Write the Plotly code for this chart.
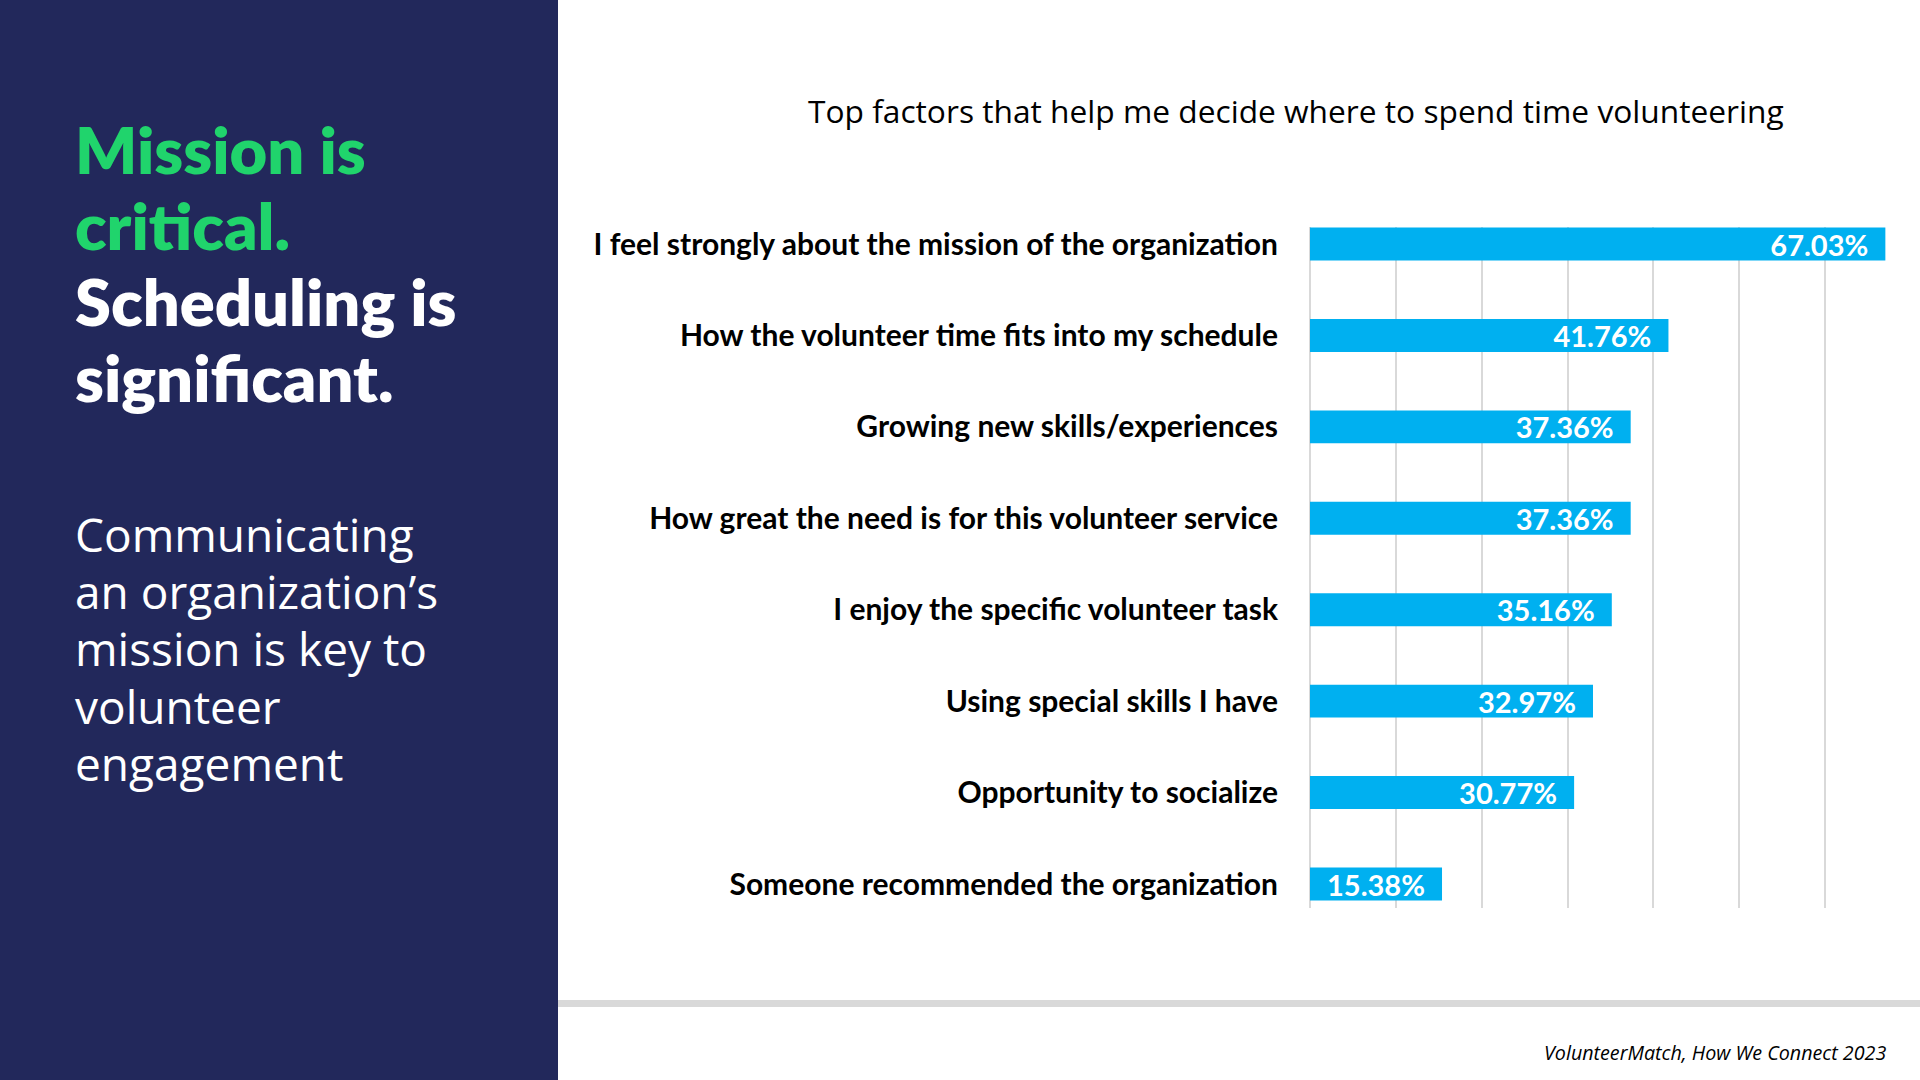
import plotly.graph_objects as go

# ---- data ----
categories = [
    "I feel strongly about the mission of the organization",
    "How the volunteer time fits into my schedule",
    "Growing new skills/experiences",
    "How great the need is for this volunteer service",
    "I enjoy the specific volunteer task",
    "Using special skills I have",
    "Opportunity to socialize",
    "Someone recommended the organization",
]
values = [67.03, 41.76, 37.36, 37.36, 35.16, 32.97, 30.77, 15.38]

chart_title = "Top factors that help me decide where to spend time volunteering"
headline_green = ["Mission is", "critical."]
headline_white = ["Scheduling is", "significant."]
body_lines = ["Communicating", "an organization\u2019s", "mission is key to", "volunteer", "engagement"]
source_note = "VolunteerMatch, How We Connect 2023"

# ---- styling ----
W, H = 1920, 1080
NAVY = "#22285B"
GREEN = "#20D46C"
BAR = "#00B0F0"
GRID = "#D9D9D9"


def px(x):
    return x / W


def py(y):
    return 1 - y / H


fig = go.Figure(
    go.Bar(
        x=values,
        y=categories,
        orientation="h",
        width=0.36,
        marker=dict(color=BAR, line=dict(width=0)),
        texttemplate="%{x:.2f}%\u00a0\u00a0",
        textposition="inside",
        insidetextanchor="end",
        constraintext="none",
        textangle=0,
        textfont=dict(family="Lato", size=29, color="white", weight="bold"),
        hoverinfo="skip",
    )
)

fig.update_layout(
    width=W,
    height=H,
    autosize=False,
    margin=dict(l=0, r=0, t=0, b=0),
    paper_bgcolor="white",
    plot_bgcolor="white",
    showlegend=False,
    xaxis=dict(
        domain=[px(1310), px(1910)],
        range=[0, 69.9],
        dtick=10,
        tick0=0,
        showticklabels=False,
        showgrid=True,
        gridcolor=GRID,
        gridwidth=2,
        zeroline=True,
        zerolinecolor=GRID,
        zerolinewidth=2,
        showline=False,
        fixedrange=True,
    ),
    yaxis=dict(
        domain=[py(908), py(227)],
        type="category",
        autorange=False,
        range=[7.2625, -0.186],
        showgrid=False,
        zeroline=False,
        showline=False,
        ticks="",
        ticklabelstandoff=31,
        tickfont=dict(family="Lato", size=30, color="black", weight="bold"),
        fixedrange=True,
        automargin=False,
    ),
)

# left navy panel and bottom rule
fig.add_shape(type="rect", xref="paper", yref="paper", x0=0, x1=px(558), y0=0, y1=1,
              fillcolor=NAVY, line=dict(width=0), layer="below")
fig.add_shape(type="rect", xref="paper", yref="paper", x0=px(558), x1=1, y0=py(1007), y1=py(1000),
              fillcolor=GRID, line=dict(width=0), layer="below")

annotations = []
head_fs = 65
head_centers = [149, 225, 301, 377]
for i, t in enumerate(headline_green + headline_white):
    annotations.append(dict(
        text=t, x=px(73), y=py(head_centers[i]), xref="paper", yref="paper",
        xanchor="left", yanchor="middle", showarrow=False,
        font=dict(family="Lato", size=head_fs, weight=800,
                  color=GREEN if i < len(headline_green) else "white"),
    ))

body_fs = 46
body_centers = [534, 591, 648, 706, 763]
for i, t in enumerate(body_lines):
    annotations.append(dict(
        text=t, x=px(73), y=py(body_centers[i]), xref="paper", yref="paper",
        xanchor="left", yanchor="middle", showarrow=False,
        font=dict(family="Open Sans", size=body_fs, color="white"),
    ))

annotations.append(dict(
    text=chart_title, x=px(1296), y=py(110), xref="paper", yref="paper",
    xanchor="center", yanchor="middle", showarrow=False,
    font=dict(family="Open Sans", size=31.7, color="black"),
))
annotations.append(dict(
    text=source_note, x=px(1888), y=py(1052), xref="paper", yref="paper",
    xanchor="right", yanchor="middle", showarrow=False,
    font=dict(family="Open Sans", size=19.7, color="black", style="italic"),
))
fig.update_layout(annotations=annotations)

fig.write_html(
    "out.html",
    config={"displayModeBar": False, "staticPlot": True},
    post_script="document.body.style.margin='0';document.body.style.overflow='hidden';",
)
